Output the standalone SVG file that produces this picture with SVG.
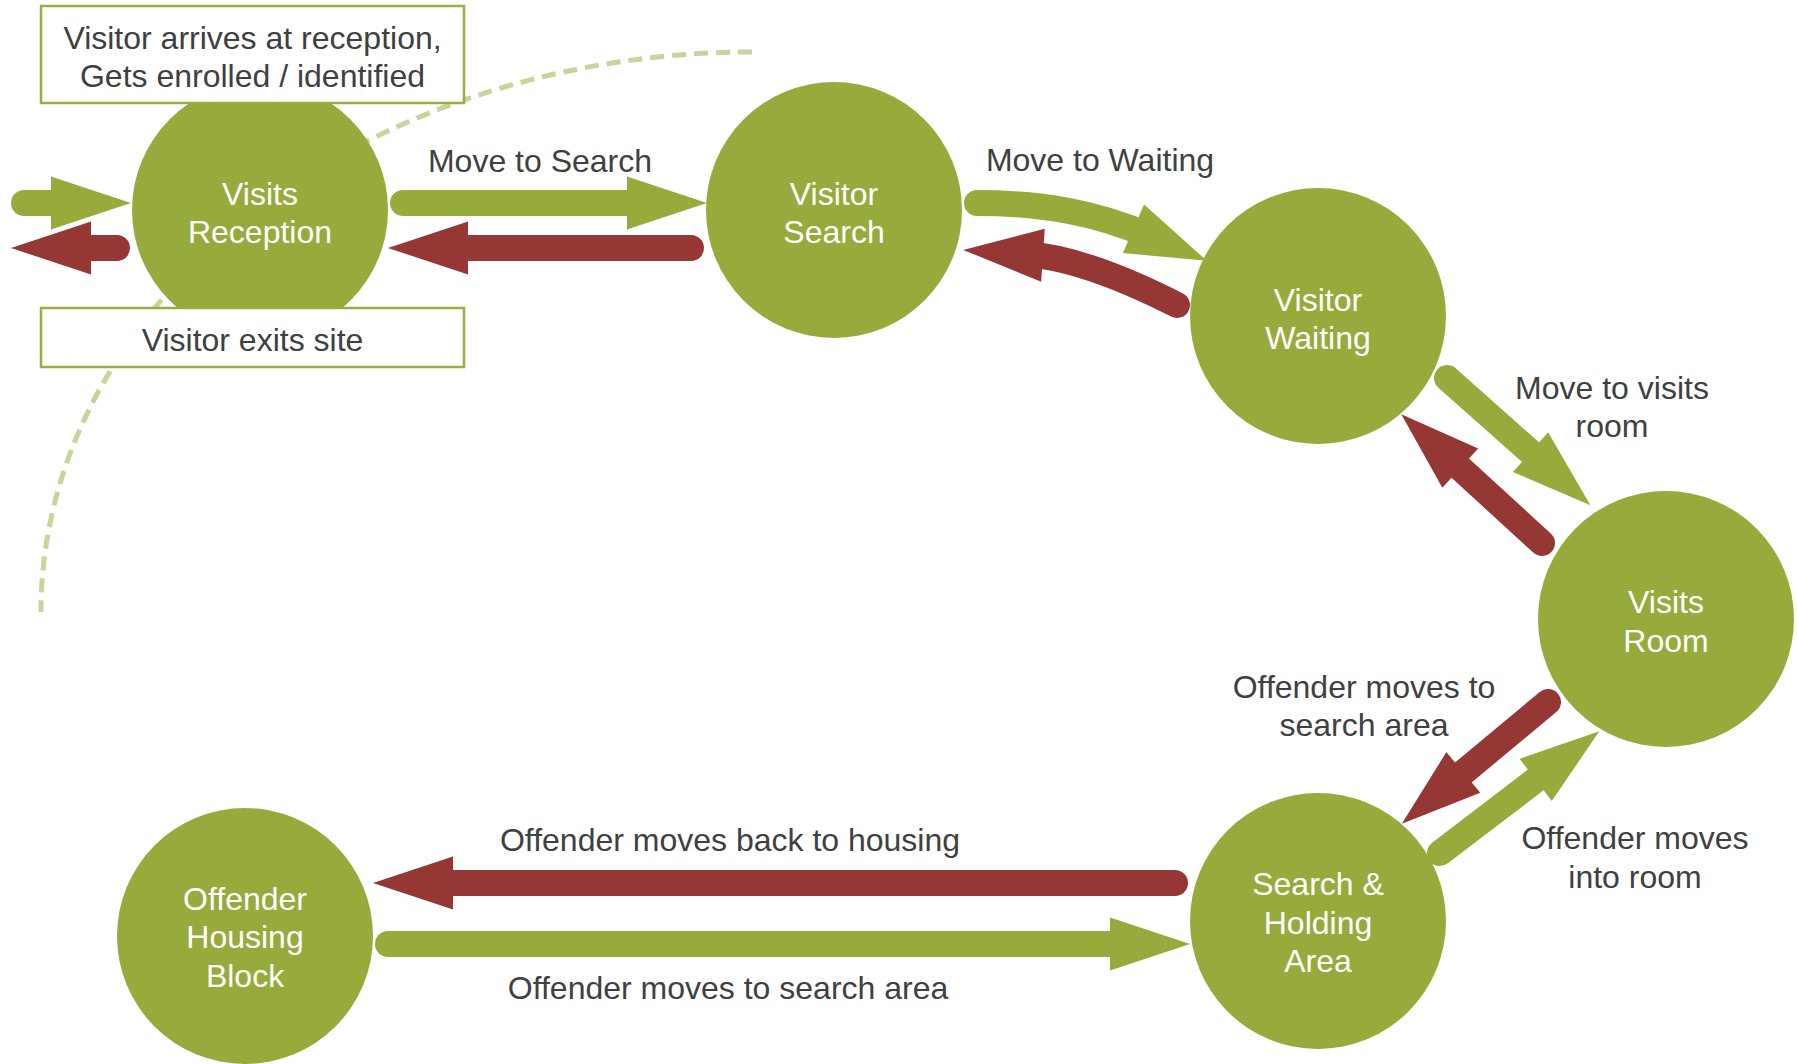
<svg xmlns="http://www.w3.org/2000/svg" width="1797" height="1064" viewBox="0 0 1797 1064">
  <style>
    .node { fill: #97ab3c; }
    .node-label { fill: #ffffff; font-family: "Liberation Sans", Arial, sans-serif; font-size: 32px; text-anchor: middle; }
    .label { fill: #404040; font-family: "Liberation Sans", Arial, sans-serif; font-size: 32px; text-anchor: middle; }
    .box { fill: #ffffff; stroke: #9aae3f; stroke-width: 2.5; }
    .boundary { fill: none; stroke: #c3d69b; stroke-width: 5; stroke-dasharray: 14 8; }
    .flow { fill: none; stroke-width: 26; stroke-linecap: round; }
    .fwd { stroke: #97ab3c; marker-end: url(#head-green); }
    .back { stroke: #953735; marker-end: url(#head-red); }
  </style>
  <defs>
    <marker id="head-green" markerUnits="userSpaceOnUse" viewBox="-20 -28 84 56" markerWidth="84" markerHeight="56" refX="0" refY="0" orient="auto">
      <polygon points="-18,-26.5 62,0 -18,26.5" fill="#97ab3c"/>
    </marker>
    <marker id="head-red" markerUnits="userSpaceOnUse" viewBox="-20 -28 84 56" markerWidth="84" markerHeight="56" refX="0" refY="0" orient="auto">
      <polygon points="-18,-26.5 62,0 -18,26.5" fill="#953735"/>
    </marker>
  </defs>

  <rect width="1797" height="1064" fill="#ffffff"/>

  <!-- site boundary -->
  <path id="site-boundary" class="boundary" d="M 752 52 A 711 560 0 0 0 41 612"/>

  <!-- nodes -->
  <g id="visits-reception">
    <circle class="node" cx="260" cy="210" r="128"/>
    <text class="node-label" x="260" y="205">Visits</text>
    <text class="node-label" x="260" y="243">Reception</text>
  </g>
  <g id="visitor-search">
    <circle class="node" cx="834" cy="210" r="128"/>
    <text class="node-label" x="834" y="205">Visitor</text>
    <text class="node-label" x="834" y="243">Search</text>
  </g>
  <g id="visitor-waiting">
    <circle class="node" cx="1318" cy="316" r="128"/>
    <text class="node-label" x="1318" y="311">Visitor</text>
    <text class="node-label" x="1318" y="349">Waiting</text>
  </g>
  <g id="visits-room">
    <circle class="node" cx="1666" cy="619" r="128"/>
    <text class="node-label" x="1666" y="613">Visits</text>
    <text class="node-label" x="1666" y="652">Room</text>
  </g>
  <g id="search-holding">
    <circle class="node" cx="1318" cy="921" r="128"/>
    <text class="node-label" x="1318" y="895">Search &amp;</text>
    <text class="node-label" x="1318" y="934">Holding</text>
    <text class="node-label" x="1318" y="972">Area</text>
  </g>
  <g id="offender-housing">
    <circle class="node" cx="245" cy="936" r="128"/>
    <text class="node-label" x="245" y="910">Offender</text>
    <text class="node-label" x="245" y="948">Housing</text>
    <text class="node-label" x="245" y="987">Block</text>
  </g>

  <!-- entry / exit notes -->
  <g id="arrival-note">
    <rect class="box" x="41" y="6" width="423" height="97"/>
    <text class="label" x="252.5" y="49">Visitor arrives at reception,</text>
    <text class="label" x="252.5" y="87">Gets enrolled / identified</text>
  </g>
  <g id="exit-note">
    <rect class="box" x="41" y="308" width="423" height="59"/>
    <text class="label" x="252.5" y="351">Visitor exits site</text>
  </g>

  <!-- connectors -->
  <g id="connectors">
    <path class="flow fwd" d="M 24 203 L 69 203"/>
    <path class="flow back" d="M 117 248 L 73 248"/>

    <path class="flow fwd" d="M 403 203 L 645 203"/>
    <path class="flow back" d="M 691 248 L 450 248"/>

    <path class="flow fwd" d="M 977 203 C 1040 203 1095 212 1150 236"/>
    <path class="flow back" d="M 1177 305 Q 1085 258 1025 254"/>

    <path class="flow fwd" d="M 1447 378 L 1544 464"/>
    <path class="flow back" d="M 1542 543 L 1447 456"/>

    <path class="flow back" d="M 1548 702 L 1449.5 784"/>
    <path class="flow fwd" d="M 1440 853 L 1550 769"/>

    <path class="flow back" d="M 1175 883 L 435 883"/>
    <path class="flow fwd" d="M 388 944 L 1128 944"/>
  </g>

  <!-- connector labels -->
  <g id="connector-labels">
    <text class="label" x="540" y="171.5">Move to Search</text>
    <text class="label" x="1100" y="170.5">Move to Waiting</text>
    <text class="label" x="1612" y="399">Move to visits</text>
    <text class="label" x="1612" y="437">room</text>
    <text class="label" x="1364" y="698">Offender moves to</text>
    <text class="label" x="1364" y="736">search area</text>
    <text class="label" x="1635" y="849">Offender moves</text>
    <text class="label" x="1635" y="888">into room</text>
    <text class="label" x="730" y="851">Offender moves back to housing</text>
    <text class="label" x="728" y="999">Offender moves to search area</text>
  </g>
</svg>
